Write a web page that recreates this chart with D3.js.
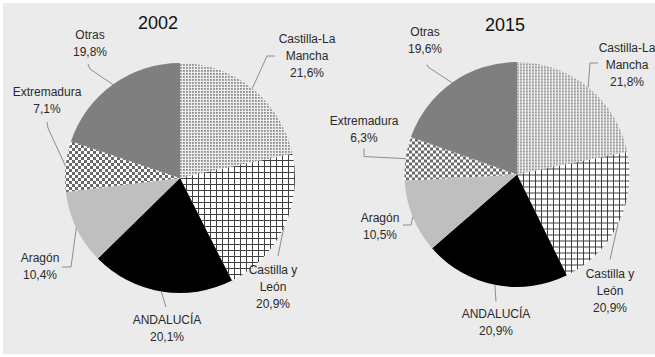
<!DOCTYPE html>
<html>
<head>
<meta charset="utf-8">
<script src="https://cdn.jsdelivr.net/npm/d3@7/dist/d3.min.js"></script>
<style>
  html, body { margin: 0; padding: 0; background: #ffffff; }
  svg { display: block; }
  text { font-family: "Liberation Sans", Arial, sans-serif; }
</style>
</head>
<body>
<svg id="chart" width="655" height="357"></svg>
<script>
// Regional shares (%) for the two years
const regions = ["Castilla-La\nMancha", "Castilla y\nLeón", "ANDALUCÍA", "Aragón", "Extremadura", "Otras"];
const years = ["2002", "2015"];
const shares2002 = [21.6, 20.9, 20.1, 10.4, 7.1, 19.8];
const shares2015 = [21.8, 20.9, 20.9, 10.5, 6.3, 19.6];

const fmt = v => d3.format(".1f")(v).replace(".", ",") + "%";

const svg = d3.select("#chart");
svg.append("rect").attr("x", 3).attr("y", 3).attr("width", 652).attr("height", 351).attr("fill", "#ebebeb");

// Fill patterns for each slice
const defs = svg.append("defs");
const pDots = defs.append("pattern").attr("id", "pDots").attr("patternUnits", "userSpaceOnUse").attr("width", 3).attr("height", 3);
pDots.append("rect").attr("width", 3).attr("height", 3).attr("fill", "#ececec");
pDots.append("rect").attr("width", 2).attr("height", 2).attr("fill", "#a8a8a8");
pDots.append("rect").attr("width", 1).attr("height", 1).attr("fill", "#8c8c8c");

const pGrid = defs.append("pattern").attr("id", "pGrid").attr("patternUnits", "userSpaceOnUse").attr("width", 6).attr("height", 6);
pGrid.append("rect").attr("width", 6).attr("height", 6).attr("fill", "#ffffff");
pGrid.append("rect").attr("width", 6).attr("height", 1).attr("fill", "#404040");
pGrid.append("rect").attr("width", 1).attr("height", 6).attr("fill", "#404040");

const pCheck = defs.append("pattern").attr("id", "pCheck").attr("patternUnits", "userSpaceOnUse").attr("width", 6).attr("height", 6);
pCheck.append("rect").attr("width", 6).attr("height", 6).attr("fill", "#ffffff");
pCheck.append("rect").attr("width", 3).attr("height", 3).attr("fill", "#6a6a6a");
pCheck.append("rect").attr("x", 3).attr("y", 3).attr("width", 3).attr("height", 3).attr("fill", "#6a6a6a");

const fills = ["url(#pDots)", "url(#pGrid)", "#000000", "#bfbfbf", "url(#pCheck)", "#7f7f7f"];

// Per-chart geometry and label placement (offsets from pie centre):
// t = first text line centre, e = optional elbow points of the leader
const layouts = [
  {
    cx: 180, cy: 178, r: 115, title: [158, 23],
    labels: [
      { t: [127, -139], e: [[87, -122], [95, -122]] },
      { t: [93, 92], e: [[98, 78]] },
      { t: [-13, 142], e: [[-14, 129]] },
      { t: [-140, 80], e: [[-109, 89], [-118, 89]] },
      { t: [-133, -86], e: [[-132, -50], [-133, -56]] },
      { t: [-90, -143], e: [[-90, -109], [-92, -114]] }
    ]
  },
  {
    cx: 517, cy: 174.5, r: 112.5, title: [505, 25],
    labels: [
      { t: [110, -126.5], e: [[73, -111.5], [81, -111.5]] },
      { t: [93, 99.5], e: [[93, 85]] },
      { t: [-21, 139.5], e: [[-21, 127]] },
      { t: [-137, 43.5], e: [[-106, 50.5], [-114, 50.5]] },
      { t: [-153, -53.5], e: [[-153, -18], [-153, -26]] },
      { t: [-92, -142.5], e: [[-89, -107.5], [-90, -110]] }
    ]
  }
];

const series = [shares2002, shares2015];
const pie = d3.pie().sort(null).value(d => d).startAngle(0).endAngle(2 * Math.PI);
const lineH = 17;

series.forEach((vals, i) => {
  const L = layouts[i];
  const g = svg.append("g").attr("transform", `translate(${L.cx},${L.cy})`);
  const arcs = pie(vals);
  const arc = d3.arc().innerRadius(0).outerRadius(L.r);
  const edge = d3.arc().innerRadius(L.r).outerRadius(L.r);

  g.selectAll("path.slice").data(arcs).join("path")
    .attr("class", "slice")
    .attr("d", arc)
    .attr("fill", (d, j) => fills[j]);

  // leader lines from the middle of each slice's rim
  arcs.forEach((a, j) => {
    const p = edge.centroid(a);
    const pts = [p].concat(L.labels[j].e);
    g.append("path")
      .attr("d", d3.line()(pts))
      .attr("fill", "none")
      .attr("stroke", "#8c8c8c")
      .attr("stroke-width", 1);
  });

  // labels
  arcs.forEach((a, j) => {
    const lines = regions[j].split("\n").concat([fmt(vals[j])]);
    const t = g.append("text")
      .attr("text-anchor", "middle")
      .attr("fill", "#2a2a2a")
      .attr("font-size", 12);
    lines.forEach((s, k) => {
      t.append("tspan")
        .attr("x", L.labels[j].t[0])
        .attr("y", L.labels[j].t[1] + k * lineH)
        .attr("dy", "0.35em")
        .text(s);
    });
  });

  svg.append("text")
    .attr("x", L.title[0]).attr("y", L.title[1])
    .attr("dy", "0.35em")
    .attr("text-anchor", "middle")
    .attr("font-size", 18)
    .attr("font-weight", 400)
    .attr("fill", "#111")
    .text(years[i]);
});
</script>
</body>
</html>
